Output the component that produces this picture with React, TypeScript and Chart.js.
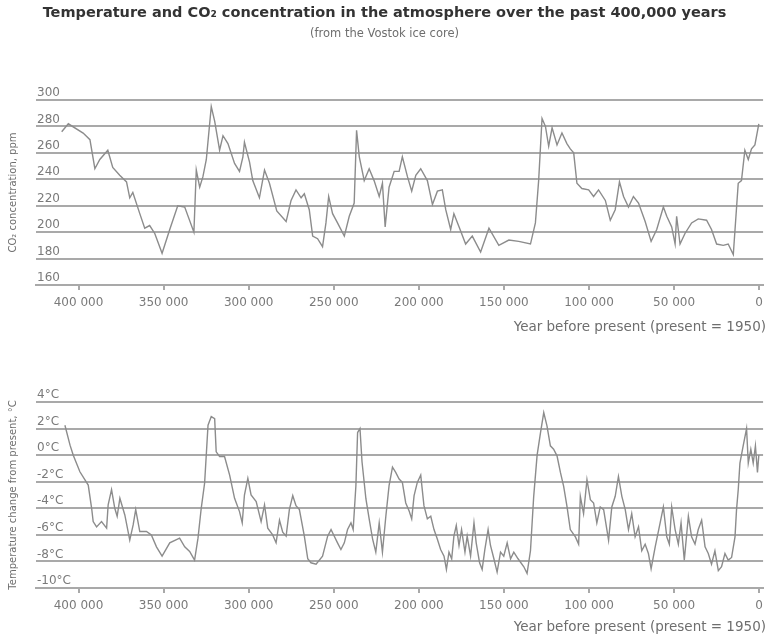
import React, { useEffect, useRef } from 'react';
import { Chart, registerables } from 'chart.js';

Chart.register(...registerables);

// ---------- data ----------
const co2Years = [
  409900, 406000, 397300, 393300, 390400, 387500, 382800, 379900, 375800, 371800,
  369900, 368100, 364000, 361100, 358200, 355200, 350900, 346400, 341700, 337600,
  332200, 330800, 328800, 326900, 324900, 322000, 320000, 317100, 315100, 312200,
  308300, 305400, 303400, 302500, 299500, 297600, 293700, 290700, 287800, 283500,
  278000, 275100, 272200, 269200, 267300, 264400, 262400, 259500, 256600, 254600,
  253000, 250700, 247800, 243800, 240900, 238000, 236600, 235000, 232100, 229200,
  226300, 223300, 221400, 219800, 217500, 214500, 211600, 209700, 206700, 204200,
  201800, 198900, 195000, 192000, 189100, 186200, 184200, 181300, 179400, 176400,
  172500, 168600, 163700, 158800, 153000, 147100, 141300, 134400, 131500, 129600,
  127600, 125600, 123700, 121700, 118800, 115900, 113000, 111000, 109000, 107100,
  104200, 100200, 97300, 94400, 90400, 87500, 84600, 82100, 79700, 76800,
  73900, 70900, 67000, 63500, 60200, 56300, 54300, 51400, 49400, 48500,
  46500, 43600, 39700, 35800, 30900, 28000, 25000, 21100, 18200, 15200,
  12300, 10400, 8400, 6400, 4500, 2500, 200,
];
const co2Ppm = [
  276, 282, 275, 270, 248, 255, 262, 249, 243, 238,
  226, 230, 214, 203, 205, 199, 184, 202, 220, 219,
  200, 247, 234, 242, 255, 295, 284, 262, 273, 267,
  252, 246, 257, 268, 253, 239, 226, 247, 237, 216,
  208, 224, 232, 226, 229, 217, 197, 195, 189, 207,
  227, 214, 207, 197, 212, 222, 277, 257, 239, 248,
  239, 227, 237, 204, 234, 246, 246, 257, 242, 231,
  243, 248, 239, 221, 231, 232, 217, 202, 214, 204,
  191, 197, 185, 203, 190, 194, 193, 191, 207, 239,
  286, 280, 265, 279, 266, 275, 267, 263, 260, 237,
  233, 232, 227, 232, 224, 209, 217, 238, 227, 219,
  227, 222, 208, 193, 202, 219, 212, 204, 191, 212,
  191, 199, 207, 210, 209, 202, 191, 190, 191, 183,
  237, 239, 262, 255, 263, 266, 282,
];

const tempYears = [
  408000, 405000, 403100, 399200, 394300, 392300, 391400, 389400, 386500, 383500,
  382600, 380600, 378700, 377300, 375700, 372800, 369900, 367900, 366400, 364000,
  360100, 357200, 354200, 350900, 346400, 340600, 337600, 334700, 331800, 329800,
  327900, 325900, 323900, 322000, 320000, 319100, 317100, 314200, 311200, 308300,
  305400, 303800, 302500, 300500, 298600, 295600, 292700, 290700, 288800, 285900,
  283900, 281900, 280000, 278000, 276100, 274100, 272200, 270200, 267300, 265300,
  263400, 260400, 256600, 253600, 251600, 249700, 247800, 245800, 243800, 241900,
  239900, 238600, 237000, 236000, 234600, 233400, 231100, 229200, 227200, 225300,
  223300, 221400, 219400, 217500, 215500, 213600, 211600, 209700, 207700, 205700,
  204200, 202800, 200900, 198900, 197000, 195000, 193000, 191100, 189200, 187200,
  185200, 183800, 182300, 180700, 179400, 178000, 176400, 174900, 172900, 171600,
  169600, 167600, 166300, 164300, 162800, 161200, 159300, 157900, 155900, 154000,
  152000, 150100, 148100, 146100, 144200, 141700, 138300, 136400, 134400, 132500,
  130500, 128500, 126600, 124700, 122700, 120800, 118800, 116800, 114900, 112900,
  111000, 108000, 106100, 105100, 103200, 101200, 99200, 97300, 95400, 93400,
  91400, 88500, 86600, 84600, 82700, 80700, 78700, 76800, 74900, 72900,
  70900, 69000, 67000, 65100, 63500, 61100, 58200, 56300, 54300, 52800,
  51400, 49400, 47500, 45900, 44000, 41600, 39700, 37700, 35800, 33800,
  31800, 29900, 28000, 26000, 24000, 22100, 20100, 18200, 16200, 14200,
  13300, 12300, 11300, 9400, 7400, 6400, 4900, 3500, 2200, 1000,
  200,
];
const tempC = [
  2.25, 0.75, 0, -1.25, -2.25, -4, -5, -5.4, -5, -5.5,
  -3.75, -2.6, -4, -4.6, -3.25, -4.5, -6.4, -5.25, -4.1, -5.75,
  -5.75, -6, -6.9, -7.6, -6.6, -6.25, -6.9, -7.25, -7.9, -6.25,
  -4, -2.1, 2.25, 2.9, 2.75, 0.25, -0.1, -0.1, -1.5, -3.25,
  -4.25, -5.1, -3, -1.75, -3, -3.5, -5, -3.75, -5.5, -6,
  -6.6, -4.9, -5.8, -6.1, -4.1, -3.05, -3.8, -4.1, -6.1, -7.8,
  -8.1, -8.2, -7.6, -6.1, -5.6, -6.1, -6.6, -7.1, -6.6, -5.6,
  -5.1, -5.6, -2.3, 1.7, 2, -0.5, -3.3, -4.8, -6.3, -7.3,
  -5.1, -7.3, -4.6, -2.3, -0.9, -1.3, -1.8, -2.05, -3.6, -4.2,
  -4.8, -3.05, -2.05, -1.5, -3.8, -4.8, -4.6, -5.6, -6.3, -7.1,
  -7.6, -8.6, -7.3, -7.8, -6.1, -5.3, -6.8, -5.6, -7.3, -6.1,
  -7.6, -5.1, -6.6, -8.1, -8.6, -7.1, -5.6, -6.8, -7.8, -8.8,
  -7.3, -7.6, -6.6, -7.8, -7.3, -7.8, -8.4, -8.9, -7.2, -3.1,
  0, 1.7, 3.2, 2.2, 0.7, 0.45, -0.05, -1.3, -2.35, -3.9,
  -5.6, -6.15, -6.7, -3.1, -4.4, -1.85, -3.35, -3.6, -5.1, -3.9,
  -4.1, -6.4, -3.9, -3.1, -1.6, -3.1, -4.1, -5.6, -4.4, -6.15,
  -5.4, -7.2, -6.7, -7.4, -8.55, -6.9, -5.1, -3.9, -6.15, -6.7,
  -3.9, -5.6, -6.7, -5.1, -7.9, -4.6, -6.15, -6.7, -5.6, -4.9,
  -6.9, -7.4, -8.2, -7.2, -8.7, -8.4, -7.4, -7.9, -7.7, -6.15,
  -4.1, -2.6, -0.6, 0.7, 2, -0.6, 0.45, -0.6, 0.7, -1.3,
  0,
];

const yearTicks = [400000, 350000, 300000, 250000, 200000, 150000, 100000, 50000, 0];
const co2Ticks = [160, 180, 200, 220, 240, 260, 280, 300];
const tempTicks = [-10, -8, -6, -4, -2, 0, 2, 4];

const titleText = 'Temperature and CO\u2082 concentration in the atmosphere over the past 400,000 years';
const subtitleText = '(from the Vostok ice core)';
const xTitleText = 'Year before present (present = 1950)';
const co2TitleText = 'CO\u2082 concentration, ppm';
const tempTitleText = 'Temperature change from present, \u00b0C';

// ---------- styling ----------
const FONT = "'DejaVu Sans', sans-serif";
const LINE = '#8c8c8c';
const GRID = '#a9a9a9';
const TICK = '#7a7a7a';
const AXIS_TITLE = '#6e6e6e';
const X_MIN = -2300;
const X_MAX = 425000;

function fmtYear(v: number): string {
  if (v === 0) return '0';
  const k = Math.floor(v / 1000);
  const r = String(v % 1000).padStart(3, '0');
  return `${k} ${r}`;
}

interface Cfg {
  xs: number[];
  ys: number[];
  yTicks: number[];
  yFmt: (v: number) => string;
  yTitle: string;
  yTitleSize: number;
  padTop: number;
  padBottom: number;
}

function buildConfig(c: Cfg): any {
  const data = c.xs.map((x, i) => ({ x, y: c.ys[i] }));
  return {
    type: 'line',
    data: {
      datasets: [
        {
          data,
          borderColor: LINE,
          borderWidth: 1.4,
          pointRadius: 0,
          tension: 0,
          fill: false,
        },
      ],
    },
    options: {
      animation: false,
      responsive: false,
      maintainAspectRatio: false,
      plugins: { legend: { display: false }, tooltip: { enabled: false } },
      layout: { padding: { top: c.padTop, right: 4, bottom: c.padBottom, left: 0 } },
      scales: {
        x: {
          type: 'linear',
          reverse: true,
          min: X_MIN,
          max: X_MAX,
          afterBuildTicks: (axis: any) => {
            axis.ticks = yearTicks.map((v) => ({ value: v }));
          },
          ticks: {
            callback: (v: any) => fmtYear(Number(v)),
            font: { family: FONT, size: 12 },
            color: TICK,
            padding: 6,
            maxRotation: 0,
            autoSkip: false,
          },
          grid: {
            display: true,
            drawOnChartArea: false,
            drawTicks: true,
            tickLength: 5,
            color: GRID,
            lineWidth: 2,
          },
          border: { display: true, color: GRID, width: 2 },
          title: { display: false },
        },
        y: {
          type: 'linear',
          min: c.yTicks[0],
          max: c.yTicks[c.yTicks.length - 1],
          afterBuildTicks: (axis: any) => {
            axis.ticks = c.yTicks.map((v) => ({ value: v }));
          },
          ticks: {
            mirror: true,
            padding: 1,
            labelOffset: -7,
            callback: (v: any) => c.yFmt(Number(v)),
            font: { family: FONT, size: 12 },
            color: TICK,
          },
          grid: { color: GRID, lineWidth: 2, drawTicks: false },
          border: { display: false },
          title: {
            display: true,
            text: c.yTitle,
            color: AXIS_TITLE,
            font: { family: FONT, size: c.yTitleSize },
            padding: { top: 7, bottom: 15 },
          },
        },
      },
    },
  };
}

const textBase: React.CSSProperties = {
  position: 'absolute',
  fontFamily: FONT,
  whiteSpace: 'nowrap',
};

export default function App() {
  const topRef = useRef<HTMLCanvasElement | null>(null);
  const botRef = useRef<HTMLCanvasElement | null>(null);

  useEffect(() => {
    if (!topRef.current || !botRef.current) return;
    const top = new Chart(
      topRef.current,
      buildConfig({
        xs: co2Years,
        ys: co2Ppm,
        yTicks: co2Ticks,
        yFmt: (v) => String(v),
        yTitle: co2TitleText,
        yTitleSize: 10,
        padTop: 100,
        padBottom: 23.6,
      })
    );
    const bot = new Chart(
      botRef.current,
      buildConfig({
        xs: tempYears,
        ys: tempC,
        yTicks: tempTicks,
        yFmt: (v) => `${v}\u00b0C`,
        yTitle: tempTitleText,
        yTitleSize: 10,
        padTop: 62,
        padBottom: 14.6,
      })
    );
    return () => {
      top.destroy();
      bot.destroy();
    };
  }, []);

  return (
    <div
      style={{
        position: 'absolute',
        left: 0,
        top: 0,
        width: 769,
        height: 634,
        background: '#ffffff',
        overflow: 'hidden',
      }}
    >
      <canvas
        ref={topRef}
        width={769}
        height={340}
        style={{ position: 'absolute', left: 0, top: 0, width: 769, height: 340 }}
      />
      <canvas
        ref={botRef}
        width={769}
        height={294}
        style={{ position: 'absolute', left: 0, top: 340, width: 769, height: 294 }}
      />
      <div
        style={{
          ...textBase,
          left: 0,
          top: 4,
          width: 769,
          textAlign: 'center',
          fontWeight: 'bold',
          fontSize: 14.5,
          lineHeight: '17px',
          color: '#333333',
        }}
      >
        {titleText}
      </div>
      <div
        style={{
          ...textBase,
          left: 0,
          top: 26,
          width: 769,
          textAlign: 'center',
          fontSize: 11.5,
          lineHeight: '14px',
          color: '#6e6e6e',
        }}
      >
        {subtitleText}
      </div>
      <div
        style={{
          ...textBase,
          right: 3,
          top: 318,
          fontSize: 13.5,
          lineHeight: '16px',
          color: AXIS_TITLE,
        }}
      >
        {xTitleText}
      </div>
      <div
        style={{
          ...textBase,
          right: 3,
          top: 619,
          fontSize: 13.5,
          lineHeight: '15px',
          color: AXIS_TITLE,
        }}
      >
        {xTitleText}
      </div>
    </div>
  );
}
